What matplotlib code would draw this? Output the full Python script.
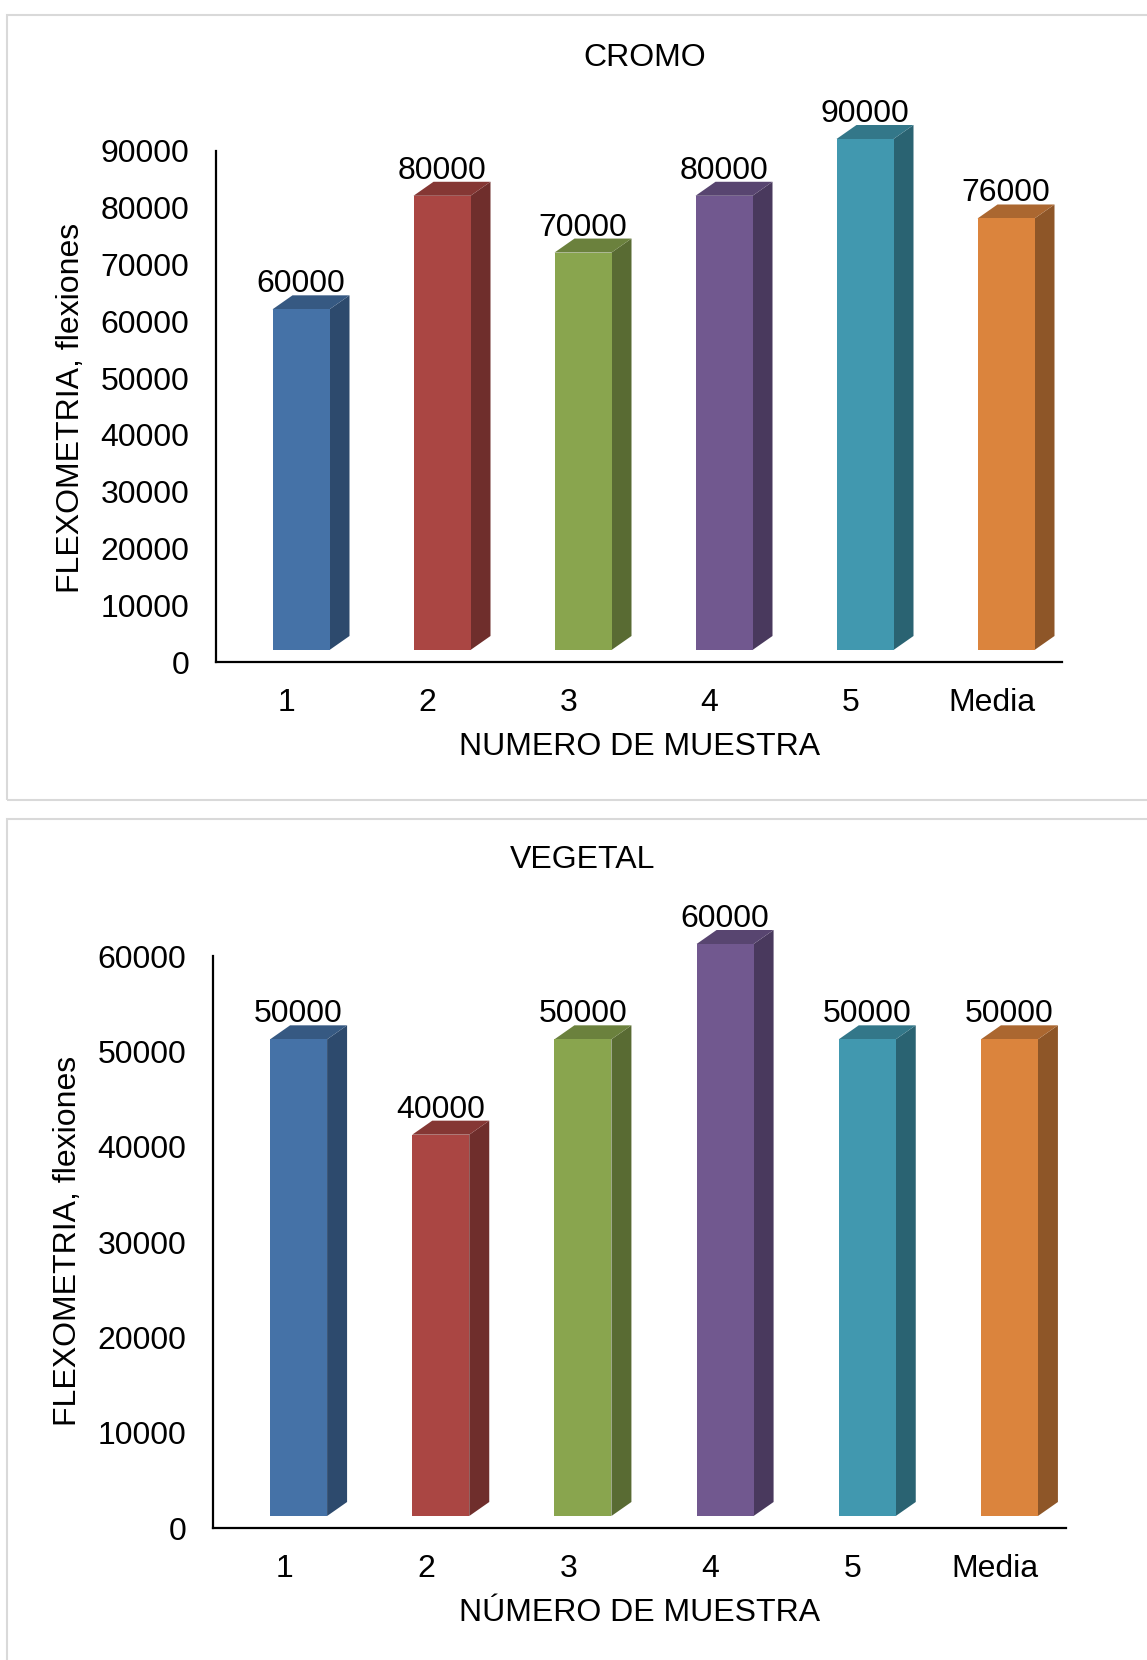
import matplotlib
matplotlib.use('Agg')
import matplotlib.pyplot as plt
from matplotlib.patches import Polygon, Rectangle
import matplotlib.colors as mcolors

# datos
categorias = ['1', '2', '3', '4', '5', 'Media']
cromo = [60000, 80000, 70000, 80000, 90000, 76000]
vegetal = [50000, 40000, 50000, 60000, 50000, 50000]
colores = ['#4572A7', '#AA4643', '#89A54E', '#71588F', '#4198AF', '#DB843D']
ticks_cromo = list(range(0, 90001, 10000))
ticks_vegetal = list(range(0, 60001, 10000))

plt.rcParams['font.family'] = ['Liberation Sans', 'DejaVu Sans']

W, H = 1147, 1660
fig = plt.figure(figsize=(W / 100, H / 100), dpi=100)
FS = 23


def shade(color, f):
    r, g, b = mcolors.to_rgb(color)
    return (r * f, g * f, b * f)


def px_box(left, top, right, bottom):
    # pixel box -> figure fraction [l, b, w, h]
    return [left / W, 1 - bottom / H, (right - left) / W, (bottom - top) / H]


def draw_panel(box, values, yticks, title, xlabel, title_xy, xlabel_xy, ylabel_xy):
    ax = fig.add_axes(px_box(*box))
    ymax = yticks[-1]
    n = len(values)
    ax.set_xlim(0, n)
    ax.set_ylim(0, ymax)
    ax_w = box[2] - box[0]
    ax_h = box[3] - box[1]
    sx = n / ax_w
    sy = ymax / ax_h

    for i, v in enumerate(values):
        c = i + 0.5
        x0, x1 = c - 14 * sx, c + 43 * sx
        y0, y1 = 12 * sy, v + 12 * sy
        dx, dy = 20 * sx, 14 * sy
        col = colores[i]
        front = [(x0, y0), (x1, y0), (x1, y1), (x0, y1)]
        side = [(x1, y0), (x1 + dx, y0 + dy), (x1 + dx, y1 + dy), (x1, y1)]
        top = [(x0, y1), (x1, y1), (x1 + dx, y1 + dy), (x0 + dx, y1 + dy)]
        ax.add_patch(Polygon(side, closed=True, facecolor=shade(col, 0.65),
                             edgecolor='none', clip_on=False, zorder=2))
        ax.add_patch(Polygon(top, closed=True, facecolor=shade(col, 0.78),
                             edgecolor='none', clip_on=False, zorder=2))
        ax.add_patch(Polygon(front, closed=True, facecolor=col,
                             edgecolor='none', clip_on=False, zorder=3))
        ax.text((x0 + x1) / 2, y1 + dy + 3 * sy, f'{v}', ha='center',
                va='baseline', fontsize=FS, zorder=4)

    ax.set_xticks([i + 0.5 for i in range(n)])
    ax.set_xticklabels(categorias)
    ax.set_yticks(yticks)
    ax.set_yticklabels([str(t) for t in yticks])
    ax.tick_params(axis='both', length=0, labelsize=FS)
    ax.tick_params(axis='y', pad=19)
    ax.tick_params(axis='x', pad=19)
    for s in ['top', 'right']:
        ax.spines[s].set_visible(False)
    for s in ['left', 'bottom']:
        ax.spines[s].set_linewidth(1.6)
        ax.spines[s].set_color('black')
    ax.patch.set_alpha(0)

    fig.text(title_xy[0] / W, 1 - title_xy[1] / H, title, ha='center',
             va='center', fontsize=FS)
    fig.text(xlabel_xy[0] / W, 1 - xlabel_xy[1] / H, xlabel, ha='center',
             va='center', fontsize=FS)
    fig.text(ylabel_xy[0] / W, 1 - ylabel_xy[1] / H, 'FLEXOMETRIA, flexiones',
             ha='center', va='center', rotation=90, fontsize=FS)
    return ax


# marcos de los graficos
fig.patches.append(Rectangle((7 / W, 1 - 800 / H), (1160 - 7) / W, (800 - 15) / H,
                             transform=fig.transFigure, fill=False,
                             edgecolor='#d9d9d9', linewidth=1.5))
fig.patches.append(Rectangle((7 / W, -0.02), (1160 - 7) / W, 1 - 819 / H + 0.02,
                             transform=fig.transFigure, fill=False,
                             edgecolor='#d9d9d9', linewidth=1.5))

draw_panel((216, 151, 1062, 662), cromo, ticks_cromo, 'CROMO',
           'NUMERO DE MUESTRA', (645, 58), (640, 747), (71, 408))
draw_panel((213, 956, 1066, 1528), vegetal, ticks_vegetal, 'VEGETAL',
           'NÚMERO DE MUESTRA', (583, 860), (640, 1613), (68, 1241))

fig.savefig('out.png', dpi=100)
